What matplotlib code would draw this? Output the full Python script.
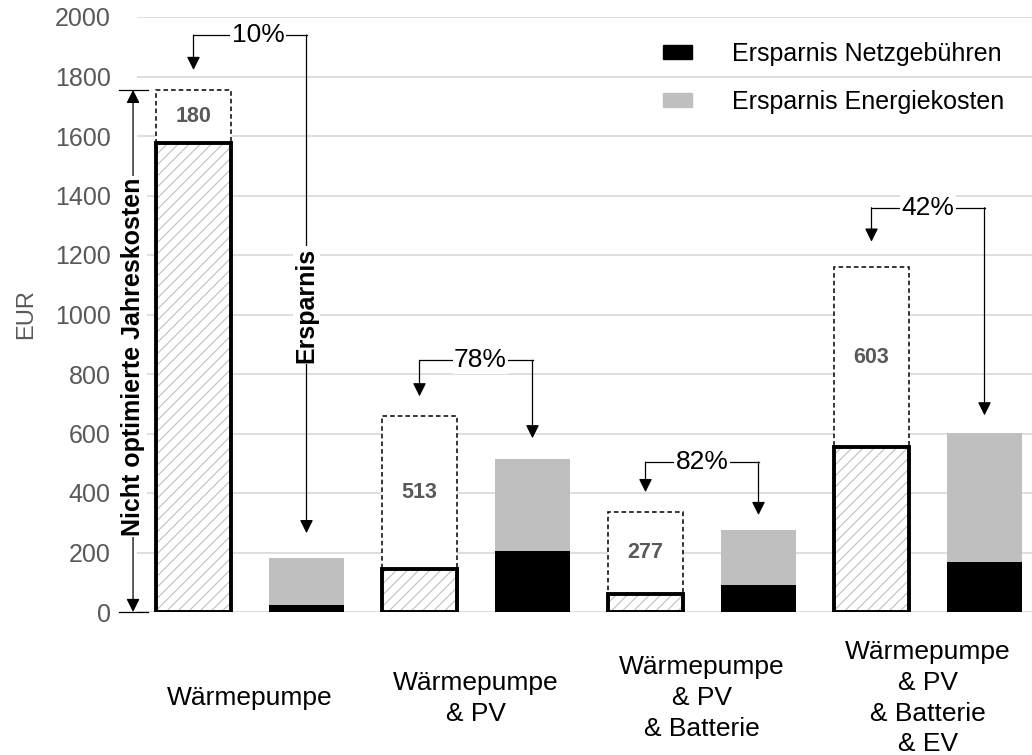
import matplotlib
matplotlib.use("Agg")
import matplotlib.pyplot as plt
from matplotlib.patches import Patch

plt.rcParams['font.family'] = ['Liberation Sans', 'DejaVu Sans']
plt.rcParams['hatch.linewidth'] = 0.8

# data
groups = ['Wärmepumpe', 'Wärmepumpe\n& PV', 'Wärmepumpe\n& PV\n& Batterie',
          'Wärmepumpe\n& PV\n& Batterie\n& EV']
optimized_cost = [1575, 145, 60, 555]      # hatched bars (optimierte Jahreskosten)
savings = [180, 513, 277, 603]             # dashed boxes on top
savings_grid = [25, 205, 90, 168]          # Ersparnis Netzgebühren
savings_energy = [155, 308, 187, 435]      # Ersparnis Energiekosten
percent_labels = ['10%', '78%', '82%', '42%']

# where the elbow arrows sit
pct_x = [0.57, 2.54, 4.5, 6.5]
pct_y = [1939, 846, 504, 1359]
left_tip = [1822, 725, 403, 1245]
right_tip = [265, 584, 326, 661]

GRAY = '#bfbfbf'
TEXT_GRAY = '#595959'
W = 0.67

fig = plt.figure(figsize=(10.32, 7.55), dpi=100)
ax = fig.add_axes([137 / 1032, 143 / 755, 895 / 1032, 595 / 755])

x_cost = [2 * i for i in range(len(groups))]
x_save = [2 * i + 1 for i in range(len(groups))]

# dashed boxes = savings stacked on the optimized cost
ax.bar(x_cost, savings, W, bottom=optimized_cost, color='white', edgecolor='black',
       linestyle=(0, (3.0, 2.0)), linewidth=1.1, zorder=2)
# hatched bars
ax.bar(x_cost, optimized_cost, W, color='white', edgecolor=GRAY, hatch='///',
       linewidth=0, zorder=3)
ax.bar(x_cost, optimized_cost, W, fill=False, edgecolor='black', linewidth=2.8, zorder=4)

# savings split
ax.bar(x_save, savings_grid, W, color='black', zorder=3)
ax.bar(x_save, savings_energy, W, bottom=savings_grid, color=GRAY, zorder=3)

for x, b, s in zip(x_cost, optimized_cost, savings):
    ax.text(x, b + s / 2, str(s), ha='center', va='center', fontsize=15.5,
            fontweight='bold', color=TEXT_GRAY, zorder=5)

# elbow arrows with percentages
arrow_kw = dict(arrowstyle='-|>', color='black', lw=0.9, mutation_scale=20,
                shrinkA=0, shrinkB=0)
for i, lab in enumerate(percent_labels):
    xl, xr = x_cost[i], x_save[i]
    y = pct_y[i]
    ax.plot([xl, xr], [y, y], color='black', lw=0.9, zorder=5)
    ax.annotate('', xy=(xl, left_tip[i]), xytext=(xl, y), arrowprops=arrow_kw, zorder=5)
    ax.annotate('', xy=(xr, right_tip[i]), xytext=(xr, y), arrowprops=arrow_kw, zorder=5)
    ax.text(pct_x[i], y, lab, ha='center', va='center', fontsize=19, zorder=6,
            bbox=dict(fc='white', ec='none', pad=1))

ax.text(x_save[0], 1032, 'Ersparnis', rotation=90, ha='center', va='center',
        fontsize=18, fontweight='bold', zorder=6,
        bbox=dict(fc='white', ec='none', pad=1))

# "Nicht optimierte Jahreskosten" dimension arrow
total0 = optimized_cost[0] + savings[0]
xa = -0.535
ax.annotate('', xy=(xa, 0), xytext=(xa, total0), annotation_clip=False,
            arrowprops=dict(arrowstyle='<|-|>', color='black', lw=0.9,
                            mutation_scale=20, shrinkA=0, shrinkB=0))
for yv in [0, total0]:
    ax.plot([-0.66, -0.40], [yv, yv], color='black', lw=0.9, clip_on=False, zorder=5)
ax.text(xa, 859, 'Nicht optimierte Jahreskosten', rotation=90, ha='center', va='center',
        fontsize=18, fontweight='bold', zorder=6, clip_on=False,
        bbox=dict(fc='white', ec='none', pad=1))

# axes styling
ax.set_xlim(-0.5, -0.5 + 895 / 113)
ax.set_ylim(0, 2000)
ax.set_yticks(range(0, 2001, 200))
ax.grid(axis='y', color='#d9d9d9', lw=1.2)
ax.set_axisbelow(True)
for s in ax.spines.values():
    s.set_visible(False)
ax.tick_params(axis='y', length=0, pad=19, labelsize=18, labelcolor=TEXT_GRAY)
ax.set_xticks([2 * i + 0.5 for i in range(len(groups))], groups)
ax.tick_params(axis='x', length=0, pad=62, labelsize=19)
for t in ax.get_xticklabels():
    t.set_va('center')
    t.set_linespacing(1.36)

ax.set_ylabel('EUR', fontsize=17, color=TEXT_GRAY)
ax.yaxis.set_label_coords(-0.112, 0.5)

handles = [Patch(color='black'), Patch(color=GRAY)]
ax.legend(handles, ['Ersparnis Netzgebühren', 'Ersparnis Energiekosten'],
          loc='upper left', bbox_to_anchor=(663 / 1032, 1 - 42 / 755),
          bbox_transform=fig.transFigure, frameon=False, fontsize=18,
          handlelength=1.16, handleheight=0.48, handletextpad=1.6,
          labelspacing=0.94, borderpad=0, borderaxespad=0)

fig.savefig('out.png', dpi=100)
